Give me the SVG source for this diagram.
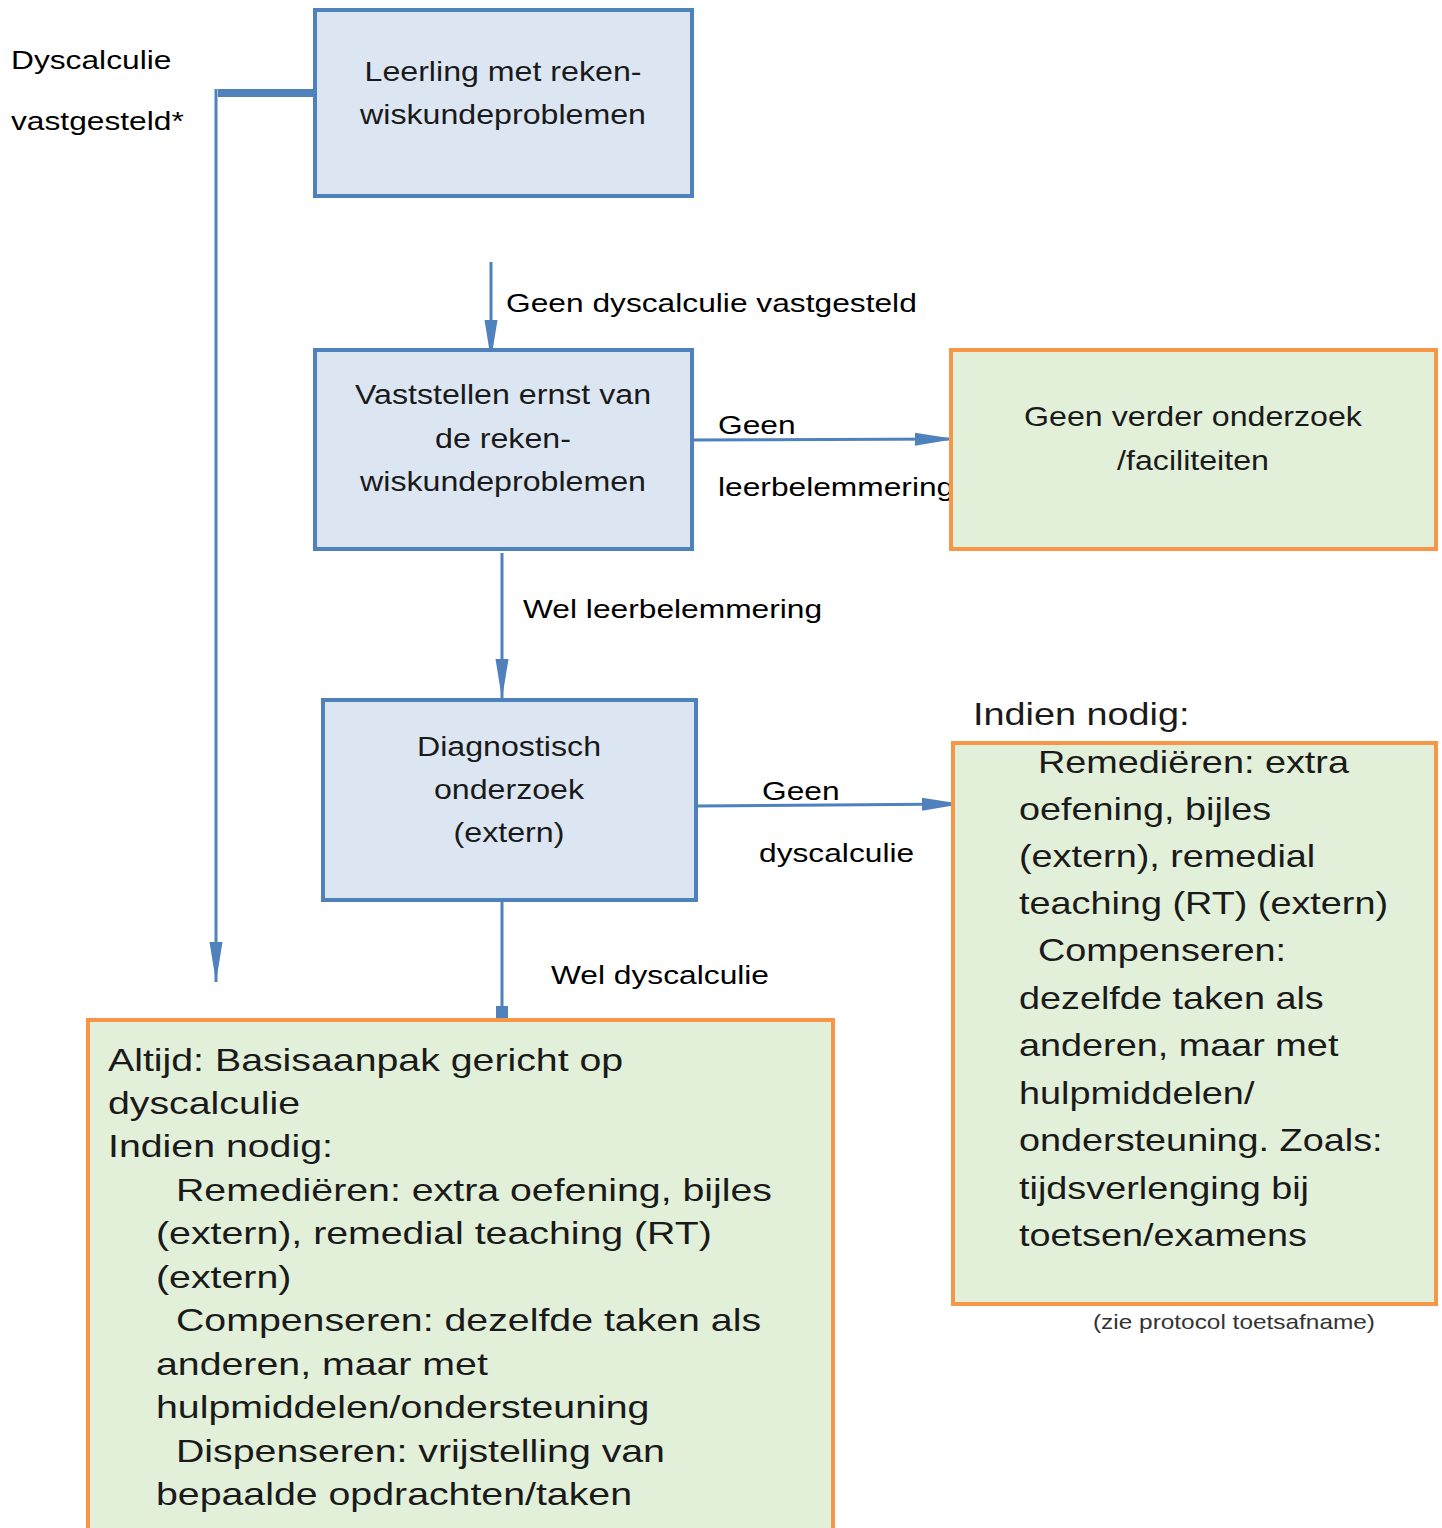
<svg xmlns="http://www.w3.org/2000/svg" width="1442" height="1528" viewBox="0 0 1442 1528">
<style>
text{font-family:"Liberation Sans",Arial,sans-serif;fill:#000}
.bx{fill:#dce6f2;stroke:#4f81bd;stroke-width:4}
.gx{fill:#e2efd9;stroke:#f79646;stroke-width:4}
.c{fill:none;stroke:#4f81bd;stroke-width:3}
.t26{font-size:26px}
.t26m{font-size:27.5px;text-anchor:middle;fill:#1a1a1a}
.t31{font-size:31px;fill:#1a1a1a}
.t32{font-size:32.2px;fill:#1a1a1a}
.t20{font-size:20px;fill:#333}
</style>
<defs>
<marker id="ah" markerUnits="userSpaceOnUse" markerWidth="42" markerHeight="14" refX="40" refY="7" orient="auto">
<path d="M0,0.5 L40,7 L0,13.5 z" fill="#4f81bd"/>
</marker>
</defs>
<g id="connectors">
<path class="c" d="M315,93 L218,93" style="stroke-width:8"/>
<path class="c" d="M216,89 L216,982" marker-end="url(#ah)"/>
<path class="c" d="M491,262 L491,360" marker-end="url(#ah)"/>
<path class="c" d="M686,440 L955,439" marker-end="url(#ah)"/>
<path class="c" d="M502,553 L502,699" marker-end="url(#ah)"/>
<path class="c" d="M697,806 L962,804" marker-end="url(#ah)"/>
<path class="c" d="M502,900 L502,1012"/>
<rect x="496" y="1006" width="12" height="13" fill="#4f81bd"/>
<text class="t26" transform="translate(11,69) scale(1.22,1)">Dyscalculie</text>
<text class="t26" transform="translate(11,130) scale(1.22,1)">vastgesteld*</text>
<text class="t26" transform="translate(506,312) scale(1.22,1)">Geen dyscalculie vastgesteld</text>
<text class="t26" transform="translate(718,434) scale(1.22,1)">Geen</text>
<text class="t26" transform="translate(718,496) scale(1.22,1)">leerbelemmering</text>
<text class="t26" transform="translate(523,618) scale(1.22,1)">Wel leerbelemmering</text>
<text class="t26" transform="translate(762,800) scale(1.22,1)">Geen</text>
<text class="t26" transform="translate(759,862) scale(1.22,1)">dyscalculie</text>
<text class="t26" transform="translate(551,984) scale(1.22,1)">Wel dyscalculie</text>
</g>
<g id="node-leerling">
<rect class="bx" x="315" y="10" width="377" height="186"/>
<text class="t26m" transform="translate(503,81) scale(1.17,1)">Leerling met reken-</text>
<text class="t26m" transform="translate(503,124) scale(1.17,1)">wiskundeproblemen</text>
</g>
<g id="node-vaststellen">
<rect class="bx" x="315" y="350" width="377" height="199"/>
<text class="t26m" transform="translate(503,404) scale(1.17,1)">Vaststellen ernst van</text>
<text class="t26m" transform="translate(503,448) scale(1.17,1)">de reken-</text>
<text class="t26m" transform="translate(503,491) scale(1.17,1)">wiskundeproblemen</text>
</g>
<g id="node-diagnostisch">
<rect class="bx" x="323" y="700" width="373" height="200"/>
<text class="t26m" transform="translate(509,756) scale(1.17,1)">Diagnostisch</text>
<text class="t26m" transform="translate(509,799) scale(1.17,1)">onderzoek</text>
<text class="t26m" transform="translate(509,842) scale(1.17,1)">(extern)</text>
</g>
<g id="node-geen-verder">
<rect class="gx" x="951" y="350" width="485" height="199"/>
<text class="t26m" transform="translate(1193,426) scale(1.17,1)">Geen verder onderzoek</text>
<text class="t26m" transform="translate(1193,470) scale(1.17,1)">/faciliteiten</text>
</g>
<g id="node-indien-nodig">
<text class="t31" transform="translate(973,725) scale(1.22,1)">Indien nodig:</text>
<rect class="gx" x="953" y="743" width="483" height="561"/>
<text class="t31" transform="translate(1038,773) scale(1.22,1)">Remediëren: extra</text>
<text class="t31" transform="translate(1019,820) scale(1.22,1)">oefening, bijles</text>
<text class="t31" transform="translate(1019,867) scale(1.22,1)">(extern), remedial</text>
<text class="t31" transform="translate(1019,914) scale(1.22,1)">teaching (RT) (extern)</text>
<text class="t31" transform="translate(1038,961) scale(1.22,1)">Compenseren:</text>
<text class="t31" transform="translate(1019,1009) scale(1.22,1)">dezelfde taken als</text>
<text class="t31" transform="translate(1019,1056) scale(1.22,1)">anderen, maar met</text>
<text class="t31" transform="translate(1019,1104) scale(1.22,1)">hulpmiddelen/</text>
<text class="t31" transform="translate(1019,1151) scale(1.22,1)">ondersteuning. Zoals:</text>
<text class="t31" transform="translate(1019,1199) scale(1.22,1)">tijdsverlenging bij</text>
<text class="t31" transform="translate(1019,1246) scale(1.22,1)">toetsen/examens</text>
<text class="t20" transform="translate(1093,1329) scale(1.22,1)">(zie protocol toetsafname)</text>
</g>
<g id="node-altijd">
<rect class="gx" x="88" y="1020" width="745" height="520"/>
<text class="t32" transform="translate(108,1071) scale(1.22,1)">Altijd: Basisaanpak gericht op</text>
<text class="t32" transform="translate(108,1114) scale(1.22,1)">dyscalculie</text>
<text class="t32" transform="translate(108,1157) scale(1.22,1)">Indien nodig:</text>
<text class="t32" transform="translate(176,1201) scale(1.22,1)">Remediëren: extra oefening, bijles</text>
<text class="t32" transform="translate(156,1244) scale(1.22,1)">(extern), remedial teaching (RT)</text>
<text class="t32" transform="translate(156,1288) scale(1.22,1)">(extern)</text>
<text class="t32" transform="translate(176,1331) scale(1.22,1)">Compenseren: dezelfde taken als</text>
<text class="t32" transform="translate(156,1375) scale(1.22,1)">anderen, maar met</text>
<text class="t32" transform="translate(156,1418) scale(1.22,1)">hulpmiddelen/ondersteuning</text>
<text class="t32" transform="translate(176,1462) scale(1.22,1)">Dispenseren: vrijstelling van</text>
<text class="t32" transform="translate(156,1505) scale(1.22,1)">bepaalde opdrachten/taken</text>
</g>
</svg>
